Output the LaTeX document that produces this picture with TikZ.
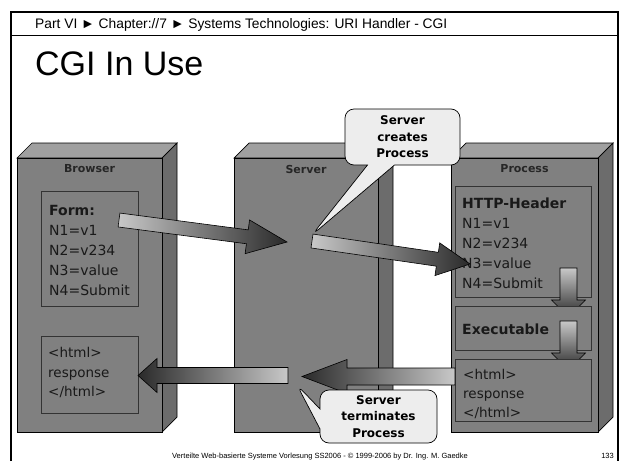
\documentclass[tikz,border=0pt]{standalone}
\usepackage{fontspec}
\setmainfont{DejaVu Sans}
\newfontfamily\slidefont{Liberation Sans}
\usetikzlibrary{calc,shapes.callouts}

\definecolor{facegray}{HTML}{808080}
\definecolor{topgray}{HTML}{A0A0A0}
\definecolor{sidegray}{HTML}{6C6C6C}
\definecolor{edgegray}{HTML}{333333}
\definecolor{bubblegray}{HTML}{EDEDED}
\definecolor{arrowlite}{HTML}{C8C8C8}
\definecolor{arrowdark}{HTML}{2A2A2A}

\tikzset{
  front/.style={draw=black, fill=facegray, line width=0.7pt},
  topface/.style={draw=black, fill=topgray, line width=0.7pt},
  sideface/.style={draw=black, fill=sidegray, line width=0.7pt},
  innerbox/.style={draw=edgegray, fill=facegray, line width=0.7pt},
  boxlabel/.style={inner sep=0pt, font=\fontsize{11}{13}\selectfont\bfseries, text=black!85},
  bodytext/.style={anchor=north west, inner sep=0pt, align=left,
    font=\fontsize{14}{20}\selectfont, text=black!90},
  arrowbody/.style={draw=black, line width=0.6pt},
  bubble/.style={rectangle callout, draw=black, fill=bubblegray, line width=0.7pt,
    rounded corners=9pt, align=center, inner sep=0pt,
    font=\fontsize{12}{16.5}\selectfont\bfseries}
}

% block arrow: style, tail, tip, shaft half width, head half width, head length
\newcommand{\blockarrow}[6]{%
  \coordinate (#2-base) at ($(#3)!#6!(#2)$);
  \draw[#1] ($(#2)!#4!90:(#3)$) -- ($(#2-base)!#4!90:(#3)$)
    -- ($(#2-base)!#5!90:(#3)$) -- (#3) -- ($(#2-base)!#5!-90:(#3)$)
    -- ($(#2-base)!#4!-90:(#3)$) -- ($(#2)!#4!-90:(#3)$) -- cycle;}

\begin{document}
\begin{tikzpicture}[x=1pt, y=-1pt]
  \useasboundingbox (0,0) rectangle (621,461);

  % slide frame and header
  \draw[line width=2pt] (11,461) -- (11,11.5) -- (618,11.5) -- (618,461);
  \draw[line width=0.8pt] (11,35) -- (618,35);
  \node[anchor=base west, inner sep=0pt, font=\slidefont\fontsize{13.8}{16}\selectfont]
    (header) at (35,28.5) {Part VI ► Chapter://7 ► Systems Technologies: URI Handler - CGI};
  \node[anchor=base west, inner sep=0pt, font=\slidefont\fontsize{34}{40}\selectfont]
    (title) at (35,75) {CGI In Use};

  % the three blocks
  \foreach \xa/\xb/\nm in {17/162/Browser, 234/378/Server, 451/598/Process} {
    \draw[topface] (\xa,158) -- ({\xa+15},143) -- ({\xb+15},143) -- (\xb,158) -- cycle;
    \draw[sideface] (\xb,158) -- ({\xb+15},143) -- ({\xb+15},417) -- (\xb,432) -- cycle;
    \draw[front] (\xa,158) rectangle (\xb,432);
    \node[boxlabel] (\nm) at ({(\xa+\xb)/2},169) {\nm};
  }

  % Browser contents
  \draw[innerbox] (41,191) rectangle (138,306);
  \node[bodytext] (form) at (49,205)
    {\textbf{Form:}\\N1=v1\\N2=v234\\N3=value\\N4=Submit};
  \draw[innerbox] (41,336) rectangle (138,413);
  \node[bodytext, font=\fontsize{13.5}{19.5}\selectfont] (page) at (48,347.5) {<html>\\response\\</html>};

  % Process contents
  \draw[innerbox] (455,186) rectangle (591,297);
  \node[bodytext] (header-in) at (462,197.5)
    {\textbf{HTTP-Header}\\N1=v1\\N2=v234\\N3=value\\N4=Submit};
  \coordinate (run-tail) at (568.5,268);
  \coordinate (run-tip) at (568.5,317);
  \blockarrow{arrowbody, top color=arrowlite, bottom color=arrowdark}{run-tail}{run-tip}{8.5pt}{17pt}{17pt}
  \draw[innerbox] (455,306) rectangle (591,350);
  \node[bodytext] (exec) at (462,324) {\textbf{Executable}};
  \coordinate (out-tail) at (568.5,321);
  \coordinate (out-tip) at (568.5,370);
  \blockarrow{arrowbody, top color=arrowlite, bottom color=arrowdark}{out-tail}{out-tip}{8.5pt}{17pt}{17pt}
  \draw[innerbox] (455,359) rectangle (591,421);
  \node[bodytext, font=\fontsize{13.5}{19}\selectfont] (reply) at (463,369.5) {<html>\\response\\</html>};

  % request: Browser -> Server -> Process
  \coordinate (req-tail) at (119,220);
  \coordinate (req-tip) at (287,242);
  \blockarrow{arrowbody, left color=arrowlite, right color=arrowdark}{req-tail}{req-tip}{7pt}{17pt}{40pt}
  \coordinate (fwd-tail) at (312,241);
  \coordinate (fwd-tip) at (470,264);
  \blockarrow{arrowbody, left color=arrowlite, right color=arrowdark}{fwd-tail}{fwd-tip}{7pt}{16.5pt}{33pt}

  % response: Process -> Server -> Browser
  \coordinate (back-tail) at (455,376.5);
  \coordinate (back-tip) at (302,376.5);
  \blockarrow{arrowbody, left color=arrowdark, right color=arrowlite}{back-tail}{back-tip}{8.5pt}{17pt}{45pt}
  \coordinate (resp-tail) at (288,375.5);
  \coordinate (resp-tip) at (138,375.5);
  \blockarrow{arrowbody, left color=arrowdark, right color=arrowlite}{resp-tail}{resp-tip}{8pt}{17pt}{19pt}

  % callouts
  \node[bubble, minimum width=115pt, minimum height=56pt, callout pointer width=27pt,
    callout absolute pointer={(312,235)}] (creates) at (402.5,137) {Server\\creates\\Process};
  \node[bubble, minimum width=117pt, minimum height=53pt, callout pointer width=20pt,
    callout absolute pointer={(297,385)}] (terminates) at (378.5,416.5) {Server\\terminates\\Process};

  % footer
  \node[anchor=base, inner sep=0pt, font=\slidefont\fontsize{7.5}{9}\selectfont]
    (footer) at (320,458.5) {Verteilte Web-basierte Systeme Vorlesung SS2006 - © 1999-2006 by Dr. Ing. M. Gaedke};
  \node[anchor=base east, inner sep=0pt, font=\slidefont\fontsize{7.5}{9}\selectfont]
    (pageno) at (614,458.5) {133};
\end{tikzpicture}
\end{document}
